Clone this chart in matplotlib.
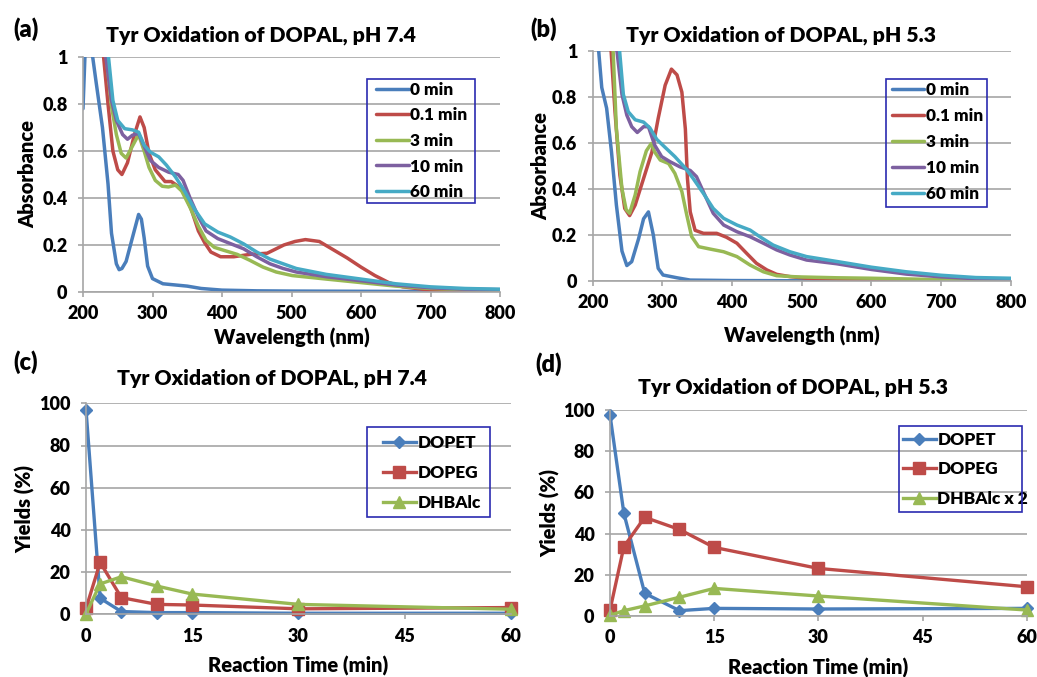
import matplotlib
matplotlib.use("Agg")
import matplotlib.pyplot as plt
import matplotlib.patches as patches
import numpy as np

plt.rcParams['font.family'] = ['Lato', 'DejaVu Sans']
plt.rcParams['font.weight'] = 'heavy'

# колори в стилі Excel
BLUE = '#4A7EBB'
RED = '#BE4B48'
GREEN = '#98B954'
PURPLE = '#7D60A0'
CYAN = '#46AAC5'
GRID = '#A6A6A6'
FRAME = '#2B2BB0'
W, H = 1037, 677

# ---- (a) спектри, pH 7.4 ----
a_blue_x = [200, 203, 213, 219, 228, 236, 241, 248, 252, 256, 262, 271, 280, 284, 288, 293, 300, 315, 350, 370, 400, 450, 500, 600, 700, 800]
a_blue_y = [0.78, 1.02, 1.02, 0.89, 0.70, 0.46, 0.25, 0.12, 0.095, 0.10, 0.13, 0.23, 0.33, 0.31, 0.23, 0.11, 0.057, 0.035, 0.025, 0.015, 0.008, 0.005, 0.004, 0.003, 0.002, 0.002]
a_red_x = [229, 236, 243, 250, 256, 264, 274, 282, 288, 295, 304, 318, 327, 337, 346, 356, 366, 375, 384, 398, 417, 440, 465, 489, 505, 520, 540, 560, 580, 600, 620, 640, 660, 700, 750, 800]
a_red_y = [1.02, 0.80, 0.60, 0.52, 0.50, 0.55, 0.67, 0.745, 0.70, 0.59, 0.52, 0.47, 0.47, 0.45, 0.42, 0.35, 0.26, 0.21, 0.17, 0.15, 0.15, 0.16, 0.165, 0.20, 0.215, 0.223, 0.215, 0.18, 0.145, 0.106, 0.07, 0.04, 0.022, 0.008, 0.003, 0.001]
a_green_x = [233, 241, 248, 255, 262, 271, 280, 288, 295, 304, 314, 323, 333, 342, 354, 366, 377, 389, 403, 422, 440, 459, 478, 501, 550, 600, 650, 700, 750, 800]
a_green_y = [1.02, 0.79, 0.67, 0.59, 0.57, 0.62, 0.67, 0.60, 0.53, 0.475, 0.45, 0.447, 0.455, 0.43, 0.36, 0.28, 0.22, 0.19, 0.177, 0.16, 0.135, 0.106, 0.085, 0.07, 0.055, 0.04, 0.025, 0.015, 0.01, 0.008]
a_purple_x = [232, 241, 248, 257, 264, 271, 280, 288, 297, 309, 323, 337, 344, 354, 366, 377, 394, 412, 431, 450, 469, 488, 507, 550, 600, 650, 700, 750, 800]
a_purple_y = [1.02, 0.815, 0.73, 0.67, 0.65, 0.667, 0.675, 0.62, 0.56, 0.53, 0.51, 0.50, 0.475, 0.40, 0.32, 0.26, 0.227, 0.206, 0.184, 0.15, 0.12, 0.10, 0.085, 0.065, 0.048, 0.03, 0.018, 0.012, 0.01]
a_cyan_x = [236, 243, 250, 260, 271, 280, 288, 297, 309, 320, 333, 346, 361, 375, 394, 412, 431, 450, 469, 488, 507, 550, 600, 650, 700, 750, 800]
a_cyan_y = [1.02, 0.815, 0.73, 0.695, 0.69, 0.68, 0.625, 0.595, 0.575, 0.54, 0.49, 0.43, 0.35, 0.29, 0.255, 0.234, 0.205, 0.17, 0.14, 0.12, 0.10, 0.075, 0.055, 0.035, 0.022, 0.015, 0.012]

# ---- (b) спектри, pH 5.3 ----
b_blue_x = [208, 213, 220, 227, 234, 242, 249, 256, 266, 273, 280, 287, 294, 301, 321, 340, 400, 500, 600, 700, 800]
b_blue_y = [1.02, 0.84, 0.75, 0.56, 0.33, 0.13, 0.067, 0.084, 0.185, 0.27, 0.30, 0.20, 0.055, 0.026, 0.014, 0.004, 0.002, 0.001, 0.001, 0.001, 0.001]
b_red_x = [226, 232, 239, 246, 253, 261, 273, 285, 294, 304, 313, 321, 328, 333, 336, 340, 347, 359, 378, 392, 407, 421, 435, 450, 464, 483, 507, 600, 700, 800]
b_red_y = [1.02, 0.735, 0.46, 0.315, 0.284, 0.33, 0.445, 0.56, 0.706, 0.85, 0.92, 0.895, 0.82, 0.66, 0.445, 0.30, 0.22, 0.207, 0.207, 0.19, 0.164, 0.12, 0.077, 0.048, 0.029, 0.019, 0.012, 0.005, 0.002, 0.001]
b_green_x = [229, 234, 242, 248, 253, 261, 268, 277, 284, 289, 297, 309, 318, 328, 335, 342, 352, 368, 388, 407, 426, 445, 464, 493, 550, 600, 700, 800]
b_green_y = [1.02, 0.66, 0.40, 0.31, 0.294, 0.374, 0.475, 0.565, 0.597, 0.56, 0.525, 0.51, 0.467, 0.388, 0.287, 0.193, 0.149, 0.139, 0.127, 0.106, 0.069, 0.04, 0.023, 0.018, 0.014, 0.012, 0.006, 0.004]
b_purple_x = [234, 242, 249, 256, 264, 273, 280, 289, 299, 311, 325, 340, 349, 361, 373, 388, 407, 426, 445, 464, 483, 507, 550, 600, 650, 700, 750, 800]
b_purple_y = [1.02, 0.81, 0.72, 0.67, 0.645, 0.67, 0.67, 0.59, 0.54, 0.518, 0.496, 0.48, 0.453, 0.373, 0.294, 0.243, 0.214, 0.192, 0.164, 0.135, 0.113, 0.091, 0.075, 0.05, 0.03, 0.018, 0.01, 0.008]
b_cyan_x = [238, 244, 251, 261, 273, 282, 292, 304, 318, 333, 344, 359, 373, 388, 407, 426, 440, 459, 483, 507, 550, 600, 650, 700, 750, 800]
b_cyan_y = [1.02, 0.81, 0.735, 0.70, 0.69, 0.665, 0.615, 0.58, 0.54, 0.49, 0.446, 0.38, 0.315, 0.272, 0.243, 0.221, 0.192, 0.156, 0.127, 0.106, 0.085, 0.06, 0.04, 0.025, 0.015, 0.012]

spec_labels = ['0 min', '0.1 min', '3 min', '10 min', '60 min']
spec_colors = [BLUE, RED, GREEN, PURPLE, CYAN]

# ---- (c), (d) виходи продуктів ----
times = [0, 2, 5, 10, 15, 30, 60]
c_dopet = [97, 7.6, 1.3, 0.8, 0.8, 0.5, 0.5]
c_dopeg = [2.8, 24.6, 7.9, 4.7, 4.4, 2.6, 3.2]
c_dhbalc = [0.2, 14.4, 17.8, 13.4, 9.6, 4.7, 2.4]
d_dopet = [97.6, 49.8, 11, 2.6, 3.7, 3.4, 3.7]
d_dopeg = [2.9, 33.7, 47.9, 42, 33.3, 23.1, 14.2]
d_dhbalc2 = [0.3, 2.6, 4.9, 9.1, 13.4, 9.7, 2.9]


def px_axes(left, top, right, bottom):
    # піксельні координати -> частки фігури
    return [left / W, 1 - bottom / H, (right - left) / W, (bottom - top) / H]


def style_axes(ax):
    for s in ['top', 'right']:
        ax.spines[s].set_visible(False)
    for s in ['left', 'bottom']:
        ax.spines[s].set_color(GRID)
        ax.spines[s].set_linewidth(1.2)
    ax.yaxis.grid(True, color=GRID, linewidth=1.2)
    ax.set_axisbelow(True)
    ax.tick_params(axis='both', colors=GRID, labelcolor='black', labelsize=13, length=3.6, width=1.2)
    ax.tick_params(axis='x', pad=6)
    ax.tick_params(axis='y', pad=7.5)


def make_legend(ax, hx, hy, pitch, box):
    # hx, hy - початок лінії першого рядка, box - рамка (px)
    fs = 12.4
    ls = (pitch - 0.9 * fs * 100 / 72) / (fs * 100 / 72)
    leg = ax.legend(loc='upper left', bbox_to_anchor=(hx / W, 1 - hy / H), bbox_transform=fig.transFigure,
                    fontsize=fs, frameon=False, handlelength=1.9, handletextpad=0.1,
                    borderpad=0, labelspacing=ls, borderaxespad=0)
    for t in leg.get_texts():
        t.set_fontweight('heavy')
    x0, y0, x1, y1 = box
    fig.patches.append(patches.Rectangle((x0 / W, 1 - y1 / H), (x1 - x0) / W, (y1 - y0) / H,
                                         transform=fig.transFigure, fill=False, edgecolor=FRAME, lw=1.2))


fig = plt.figure(figsize=(10.37, 6.77), dpi=100)

axa = fig.add_axes(px_axes(83, 57, 500, 292))
axb = fig.add_axes(px_axes(592.7, 50.7, 1010.7, 281))
axc = fig.add_axes(px_axes(86, 403.3, 510.7, 614.3))
axd = fig.add_axes(px_axes(610, 410, 1026.7, 616))

# спектри
for ax, series in [
        (axa, [(a_blue_x, a_blue_y), (a_red_x, a_red_y), (a_green_x, a_green_y), (a_purple_x, a_purple_y), (a_cyan_x, a_cyan_y)]),
        (axb, [(b_blue_x, b_blue_y), (b_red_x, b_red_y), (b_green_x, b_green_y), (b_purple_x, b_purple_y), (b_cyan_x, b_cyan_y)])]:
    for (x, y), lab, col in zip(series, spec_labels, spec_colors):
        ax.plot(x, y, color=col, lw=2.5, label=lab, solid_joinstyle='round', solid_capstyle='round')
    ax.set_xlim(200, 800)
    ax.set_ylim(0, 1)
    ax.set_xticks(np.arange(200, 801, 100))
    ax.set_yticks([0, 0.2, 0.4, 0.6, 0.8, 1])
    ax.set_yticklabels(['0', '0.2', '0.4', '0.6', '0.8', '1'])
    style_axes(ax)
    ax.set_xlabel('Wavelength (nm)', fontsize=14.5, fontweight='heavy', va='top')
    ax.set_ylabel('Absorbance', fontsize=14.5, fontweight='heavy')

axa.xaxis.set_label_coords(0.5, (292 - 328) / 235)
axb.xaxis.set_label_coords(0.5, (281 - 326) / 230.3)
axa.yaxis.set_label_coords((37 - 83) / 417, 0.5)
axb.yaxis.set_label_coords((550 - 592.7) / 418, 0.5)
make_legend(axa, 376, 82, 25, (367, 79, 475, 203))
make_legend(axb, 891.7, 82, 25.4, (886, 79, 987, 207))

# виходи
for ax, ys, labels in [
        (axc, [c_dopet, c_dopeg, c_dhbalc], ['DOPET', 'DOPEG', 'DHBAlc']),
        (axd, [d_dopet, d_dopeg, d_dhbalc2], ['DOPET', 'DOPEG', 'DHBAlc x 2'])]:
    ax.plot(times, ys[0], color=BLUE, lw=2.4, marker='D', ms=6, label=labels[0], clip_on=False)
    ax.plot(times, ys[1], color=RED, lw=2.4, marker='s', ms=8, label=labels[1], clip_on=False)
    ax.plot(times, ys[2], color=GREEN, lw=2.4, marker='^', ms=8, label=labels[2], clip_on=False)
    ax.set_xlim(0, 60)
    ax.set_ylim(0, 100)
    ax.set_xticks([0, 15, 30, 45, 60])
    ax.set_yticks(np.arange(0, 101, 20))
    style_axes(ax)
    ax.set_xlabel('Reaction Time (min)', fontsize=14.5, fontweight='heavy', va='top')
    ax.set_ylabel('Yields (%)', fontsize=14.5, fontweight='heavy')

axc.xaxis.set_label_coords(0.5, (614.3 - 656) / 211)
axd.xaxis.set_label_coords(0.5, (616 - 658) / 206)
axc.yaxis.set_label_coords((35 - 86) / 424.7, 0.5)
axd.yaxis.set_label_coords((560 - 610) / 416.7, 0.5)
make_legend(axc, 383, 435, 29.7, (367, 427, 490, 517))
make_legend(axd, 903, 432, 29, (899, 426, 1022, 512))

# заголовки (центровані по області діаграми, як в Excel)
for title, x, y in [('Tyr Oxidation of DOPAL, pH 7.4', 261, 41.7), ('Tyr Oxidation of DOPAL, pH 5.3', 781, 41.7),
                    ('Tyr Oxidation of DOPAL, pH 7.4', 272, 385), ('Tyr Oxidation of DOPAL, pH 5.3', 793, 393.3)]:
    fig.text(x / W, 1 - y / H, title, fontsize=15.3, fontweight='heavy', ha='center', va='baseline')

# літери панелей
for letter, x, y in [('(a)', 13, 17), ('(b)', 530, 17), ('(c)', 13, 350), ('(d)', 535, 352)]:
    fig.text(x / W, 1 - y / H, letter, fontsize=17, fontweight='heavy', va='top', ha='left')

fig.savefig('out.png', dpi=100)
